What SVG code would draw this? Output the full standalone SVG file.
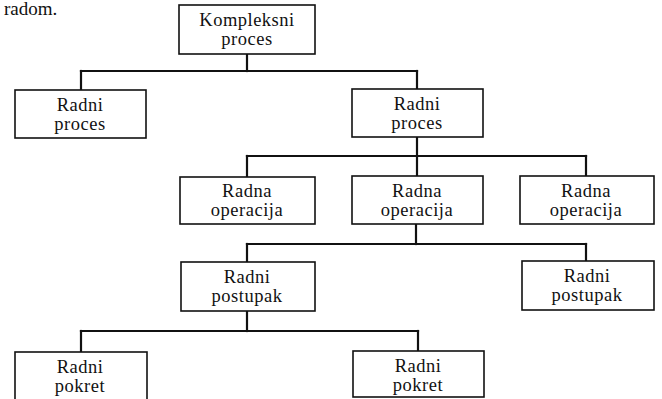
<svg xmlns="http://www.w3.org/2000/svg" width="662" height="399" viewBox="0 0 662 399">
<style>
.box{fill:#fff;stroke:#111;stroke-width:1.6}
.lbl{font-family:'Liberation Serif','Times New Roman','DejaVu Serif',serif;font-size:18.5px;fill:#111;text-anchor:middle;letter-spacing:0.5px}
.con line{stroke:#111;stroke-width:2.2;stroke-linecap:square}
</style>
<rect width="662" height="399" fill="#fff"/>
<text x="4" y="15" font-family="Liberation Serif, DejaVu Serif, serif" font-size="19" fill="#111">radom.</text>
<g id="connectors" class="con">
<line x1="247" y1="54" x2="247" y2="71"/>
<line x1="81" y1="71" x2="417" y2="71"/>
<line x1="81" y1="71" x2="81" y2="90"/>
<line x1="417" y1="71" x2="417" y2="89"/>
<line x1="417" y1="137" x2="417" y2="176"/>
<line x1="247" y1="156" x2="586" y2="156"/>
<line x1="247" y1="156" x2="247" y2="177"/>
<line x1="586" y1="156" x2="586" y2="176"/>
<line x1="416" y1="224" x2="416" y2="244"/>
<line x1="247" y1="244" x2="586" y2="244"/>
<line x1="247" y1="244" x2="247" y2="262"/>
<line x1="586" y1="244" x2="586" y2="261"/>
<line x1="247" y1="311" x2="247" y2="331"/>
<line x1="81" y1="331" x2="418" y2="331"/>
<line x1="81" y1="331" x2="81" y2="352"/>
<line x1="418" y1="331" x2="418" y2="351"/>
</g>
<g id="kompleksni-proces">
<rect class="box" x="179" y="5" width="136" height="49"/>
<text class="lbl" x="247" y="26" letter-spacing="1">Kompleksni</text>
<text class="lbl" x="247" y="45">proces</text>
</g>
<g id="radni-proces-1">
<rect class="box" x="15" y="90" width="131" height="48"/>
<text class="lbl" x="80" y="111">Radni</text>
<text class="lbl" x="80" y="130">proces</text>
</g>
<g id="radni-proces-2">
<rect class="box" x="352" y="89" width="131" height="48"/>
<text class="lbl" x="417" y="110">Radni</text>
<text class="lbl" x="417" y="129">proces</text>
</g>
<g id="radna-operacija-1">
<rect class="box" x="180" y="177" width="135" height="47"/>
<text class="lbl" x="247" y="197">Radna</text>
<text class="lbl" x="247" y="216">operacija</text>
</g>
<g id="radna-operacija-2">
<rect class="box" x="352" y="176" width="131" height="48"/>
<text class="lbl" x="417" y="197">Radna</text>
<text class="lbl" x="417" y="216">operacija</text>
</g>
<g id="radna-operacija-3">
<rect class="box" x="520" y="176" width="134" height="48"/>
<text class="lbl" x="586" y="197">Radna</text>
<text class="lbl" x="586" y="216">operacija</text>
</g>
<g id="radni-postupak-1">
<rect class="box" x="181" y="262" width="134" height="49"/>
<text class="lbl" x="247" y="283">Radni</text>
<text class="lbl" x="247" y="302">postupak</text>
</g>
<g id="radni-postupak-2">
<rect class="box" x="522" y="261" width="132" height="49"/>
<text class="lbl" x="587" y="282">Radni</text>
<text class="lbl" x="587" y="301">postupak</text>
</g>
<g id="radni-pokret-1">
<rect class="box" x="15" y="352" width="132" height="52"/>
<text class="lbl" x="80" y="373">Radni</text>
<text class="lbl" x="80" y="392">pokret</text>
</g>
<g id="radni-pokret-2">
<rect class="box" x="353" y="351" width="131" height="46"/>
<text class="lbl" x="418" y="372">Radni</text>
<text class="lbl" x="418" y="391">pokret</text>
</g>
</svg>
